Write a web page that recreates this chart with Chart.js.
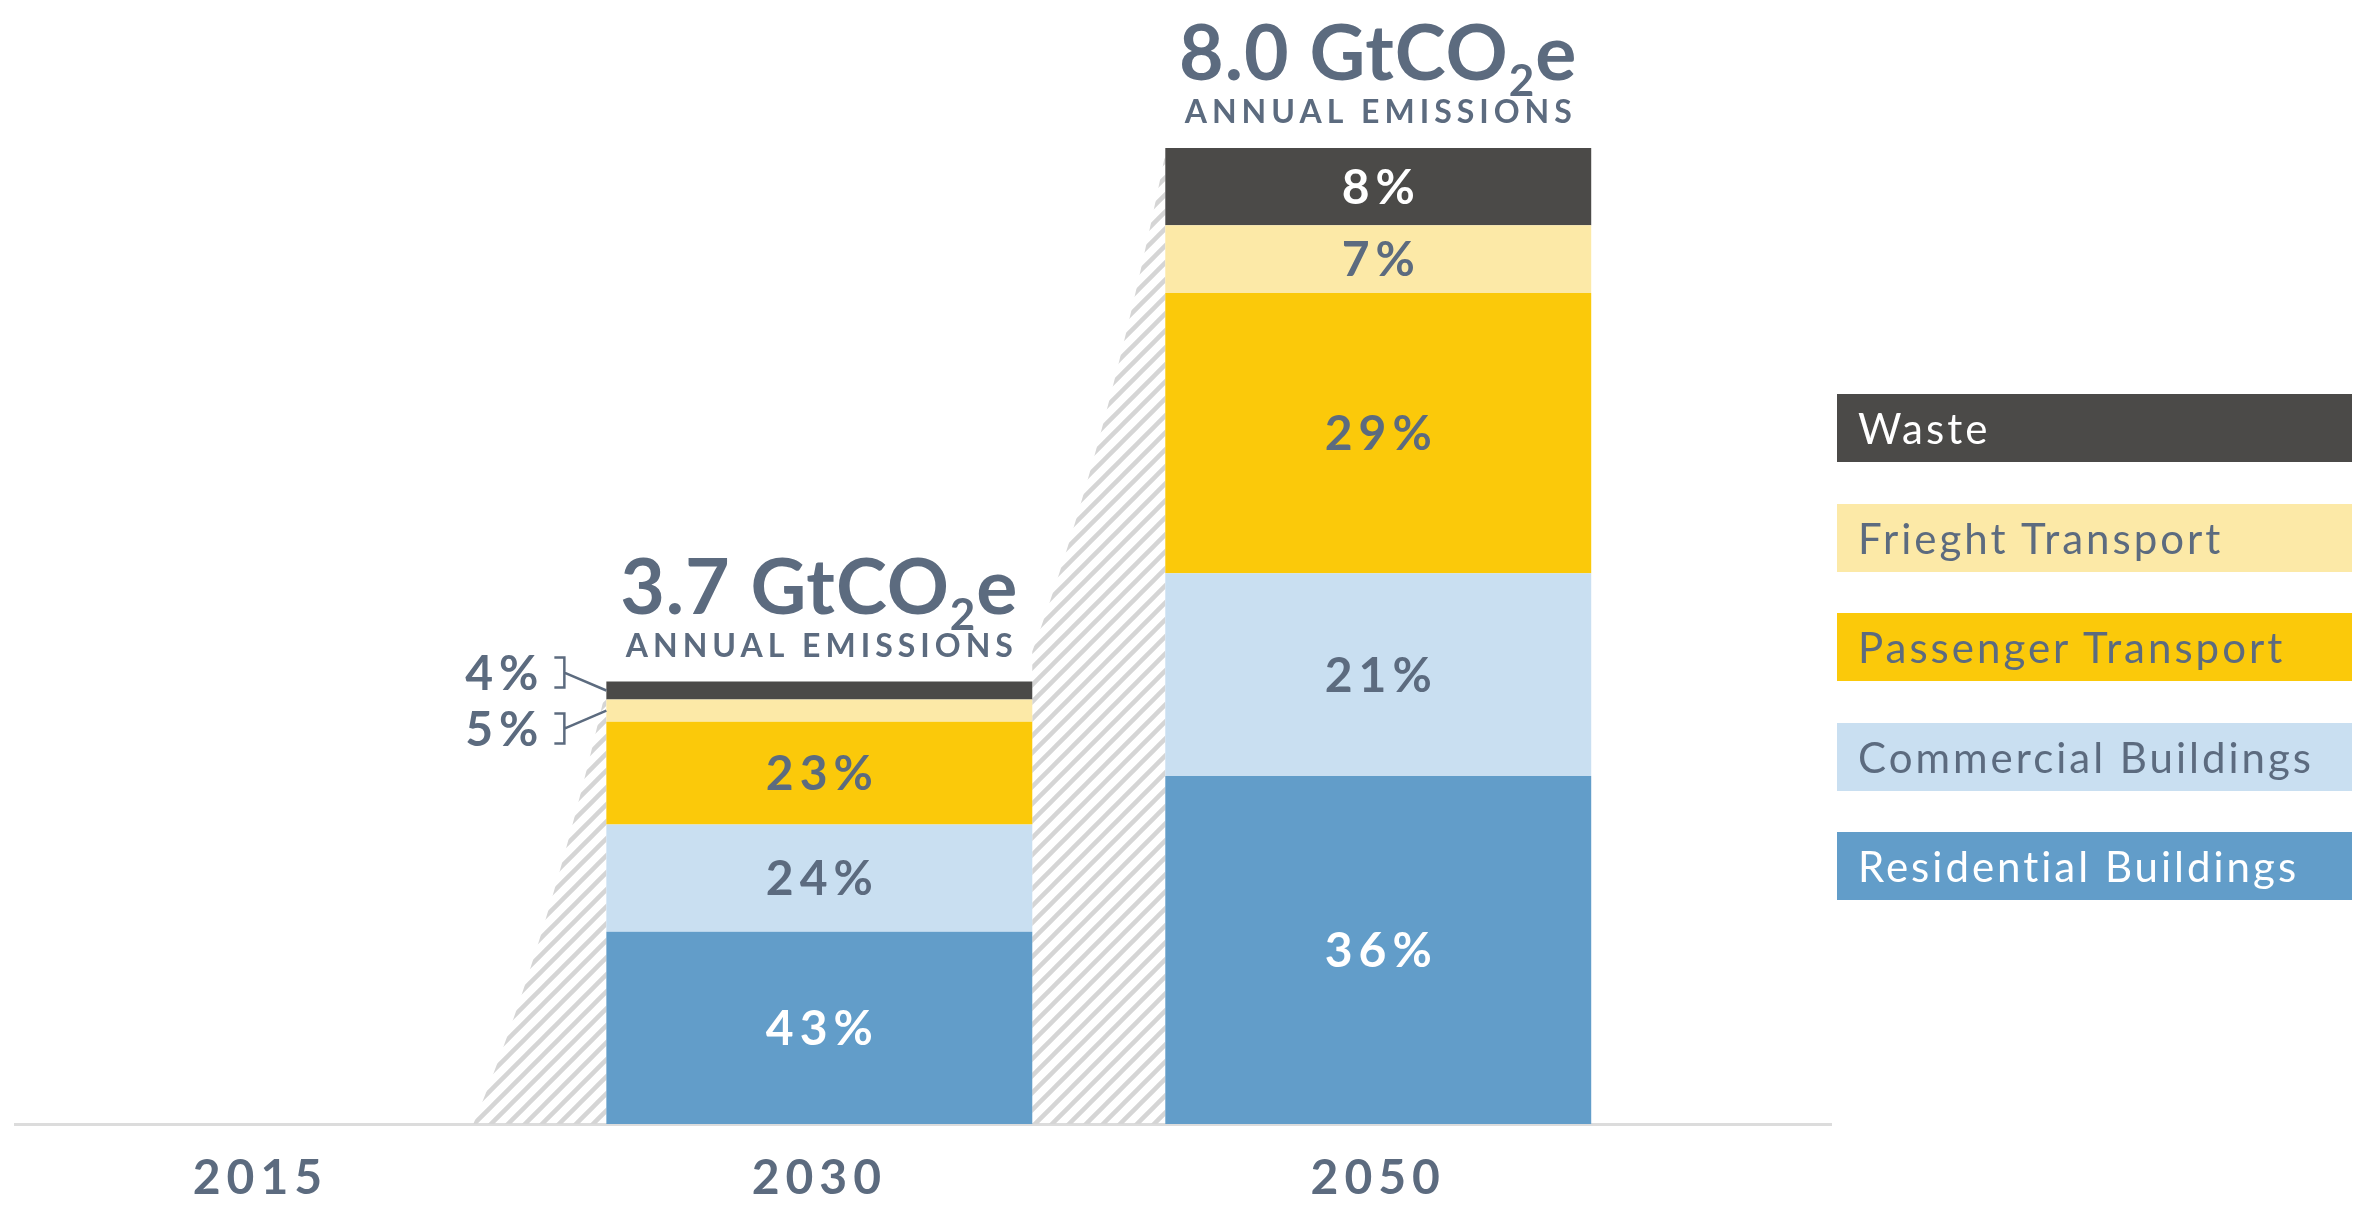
<!DOCTYPE html>
<html>
<head>
<meta charset="utf-8">
<script src="https://cdn.jsdelivr.net/npm/chart.js@4.4.1/dist/chart.umd.min.js"></script>
<style>
  html, body { margin: 0; padding: 0; background: #fff; }
  #wrap { position: relative; width: 2369px; height: 1208px; }
  #legend { position: absolute; left: 1837px; top: 394px; width: 515px; }
  .item { height: 68px; margin-bottom: 41.5px; display: flex; align-items: center; padding-left: 21px;
          box-sizing: border-box; font: 400 42px Lato, sans-serif; letter-spacing: 3px; }
</style>
</head>
<body>
<div id="wrap">
  <canvas id="chart" width="2369" height="1208"></canvas>
  <div id="legend"></div>
</div>
<script>
const years = ['2015', '2030', '2050'];
const totals = [0, 3.7, 8.0];            // GtCO2e annual emissions
const residential = [0, 43, 36];         // % shares
const commercial = [0, 24, 21];
const passenger = [0, 23, 29];
const freight = [0, 5, 7];
const waste = [0, 4, 8];

const seriesNames = ['Residential Buildings', 'Commercial Buildings', 'Passenger Transport', 'Frieght Transport', 'Waste'];
const shares = [residential, commercial, passenger, freight, waste];
const colors = ['#629dc9', '#c9dff1', '#fbc90a', '#fce9a7', '#4b4a48'];
const ink = '#5c6b7f';
const labelColors = ['#ffffff', ink, ink, ink, '#ffffff'];

// share of the year's total -> GtCO2e
const toValues = s => s.map((v, i) => ({ x: i, y: totals[i] * v / 100 }));
const stackMax = Math.max(...years.map((_, i) => shares.reduce((a, s) => a + totals[i] * s[i] / 100, 0)));

function makeHatch(ctx) {
  const s = 17;
  const c = document.createElement('canvas');
  c.width = s; c.height = s;
  const g = c.getContext('2d');
  g.strokeStyle = '#d5d5d5';
  g.lineWidth = 4.5;
  g.beginPath();
  g.moveTo(0, s); g.lineTo(s, 0);
  g.moveTo(-s / 2, s / 2); g.lineTo(s / 2, -s / 2);
  g.moveTo(s / 2, s * 1.5); g.lineTo(s * 1.5, s / 2);
  g.stroke();
  return ctx.createPattern(c, 'repeat');
}

function stackTop(chart, i) {
  return chart.getDatasetMeta(chart.data.datasets.length - 1).data[i].y;
}

// growth wedges between the bars
const hatchPlugin = {
  id: 'hatch',
  beforeDraw(chart) { chart.ctx.letterSpacing = '6px'; },
  beforeDatasetsDraw(chart) {
    const ctx = chart.ctx;
    const base = chart.scales.y.getPixelForValue(0);
    const bars = chart.getDatasetMeta(0).data;
    ctx.save();
    ctx.letterSpacing = '0px';
    ctx.fillStyle = makeHatch(ctx);
    for (let i = 1; i < years.length; i++) {
      const x0 = bars[i - 1].x + bars[i].width / 2;
      const x1 = bars[i].x - bars[i].width / 2;
      const y0 = totals[i - 1] ? stackTop(chart, i - 1) - 30 : base;
      const y1 = stackTop(chart, i) + 6;
      const dx = x1 - x0, dy = y0 - y1;
      ctx.beginPath();
      ctx.moveTo(x0, base);
      ctx.lineTo(x0, y0);
      ctx.quadraticCurveTo(x0 + 0.55 * dx, y0 - 0.4 * dy, x1, y1);
      ctx.lineTo(x1, base);
      ctx.closePath();
      ctx.fill();
    }
    ctx.restore();
  }
};

const labelPlugin = {
  id: 'labels',
  afterDatasetsDraw(chart) {
    const ctx = chart.ctx;
    ctx.save();
    for (let i = 0; i < years.length; i++) {
      if (!totals[i]) continue;
      const outside = [];
      let cx = 0;
      chart.data.datasets.forEach((ds, d) => {
        const el = chart.getDatasetMeta(d).data[i];
        cx = el.x;
        const h = el.base - el.y;
        const mid = (el.y + el.base) / 2;
        const txt = shares[d][i] + '%';
        if (h < 40) { outside.push({ mid, txt, left: el.x - el.width / 2 }); return; }
        ctx.font = '700 48px Lato';
        ctx.letterSpacing = '6px';
        ctx.textAlign = 'center';
        ctx.textBaseline = 'alphabetic';
        ctx.fillStyle = labelColors[d];
        ctx.fillText(txt, el.x + 3, mid + 17);
      });

      // small segments: labels to the left with bracket + leader
      outside.sort((a, b) => a.mid - b.mid);
      const mean = outside.reduce((a, o) => a + o.mid, 0) / (outside.length || 1);
      outside.forEach((o, k) => {
        const ty = mean + (k - (outside.length - 1) / 2) * 56;
        const bx = o.left - 42;
        ctx.font = '700 48px Lato';
        ctx.letterSpacing = '6px';
        ctx.textAlign = 'right';
        ctx.fillStyle = ink;
        ctx.fillText(o.txt, bx - 20, ty + 17);
        ctx.strokeStyle = ink;
        ctx.lineWidth = 2.5;
        ctx.beginPath();
        ctx.moveTo(bx - 10, ty - 15); ctx.lineTo(bx, ty - 15); ctx.lineTo(bx, ty + 15); ctx.lineTo(bx - 10, ty + 15);
        ctx.moveTo(bx, ty); ctx.lineTo(o.left, o.mid);
        ctx.stroke();
      });

      // heading above the bar
      const top = stackTop(chart, i);
      const a = totals[i].toFixed(1) + ' GtCO', sub = '2', b = 'e';
      ctx.textAlign = 'left';
      ctx.fillStyle = ink;
      ctx.letterSpacing = '1px';
      ctx.font = '700 77px Lato';
      const wa = ctx.measureText(a).width, wb = ctx.measureText(b).width;
      ctx.font = '700 44px Lato';
      const ws = ctx.measureText(sub).width;
      const x = cx - (wa + ws + wb) / 2;
      const by = top - 68;
      ctx.font = '700 77px Lato';
      ctx.fillText(a, x, by);
      ctx.font = '700 44px Lato';
      ctx.fillText(sub, x + wa, by + 16);
      ctx.font = '700 77px Lato';
      ctx.fillText(b, x + wa + ws, by);
      ctx.font = '700 32px Lato';
      ctx.letterSpacing = '5px';
      ctx.textAlign = 'center';
      ctx.fillText('ANNUAL EMISSIONS', cx + 2.5, top - 25);
    }
    ctx.restore();
  }
};

const datasets = seriesNames.map((name, d) => ({
  label: name,
  data: toValues(shares[d]),
  backgroundColor: colors[d],
  borderWidth: 0,
  barPercentage: 0.762,
  categoryPercentage: 1
}));

new Chart(document.getElementById('chart'), {
  type: 'bar',
  data: { datasets },
  options: {
    responsive: false,
    animation: false,
    layout: { padding: { left: 15, right: 538, top: 148, bottom: 0 } },
    plugins: { legend: { display: false }, tooltip: { enabled: false } },
    scales: {
      x: {
        type: 'linear',
        stacked: true,
        offset: false,
        min: -0.439,
        max: 2.81,
        afterBuildTicks: axis => { axis.ticks = years.map((_, i) => ({ value: i })); },
        afterFit: axis => { axis.height = 84; },
        ticks: {
          autoSkip: false,
          maxRotation: 0,
          padding: 26,
          color: ink,
          font: { family: 'Lato', size: 48, weight: '700' },
          callback: v => years[v] ?? ''
        },
        grid: { display: false, drawTicks: false },
        border: { display: true, color: '#dcdcdc', width: 3 }
      },
      y: { stacked: true, min: 0, max: stackMax, display: false }
    }
  },
  plugins: [hatchPlugin, labelPlugin]
});

// legend, top to bottom = top of stack first
const legend = document.getElementById('legend');
for (let d = seriesNames.length - 1; d >= 0; d--) {
  const item = document.createElement('div');
  item.className = 'item';
  item.style.background = colors[d];
  item.style.color = labelColors[d];
  item.textContent = seriesNames[d];
  legend.appendChild(item);
}
</script>
</body>
</html>
